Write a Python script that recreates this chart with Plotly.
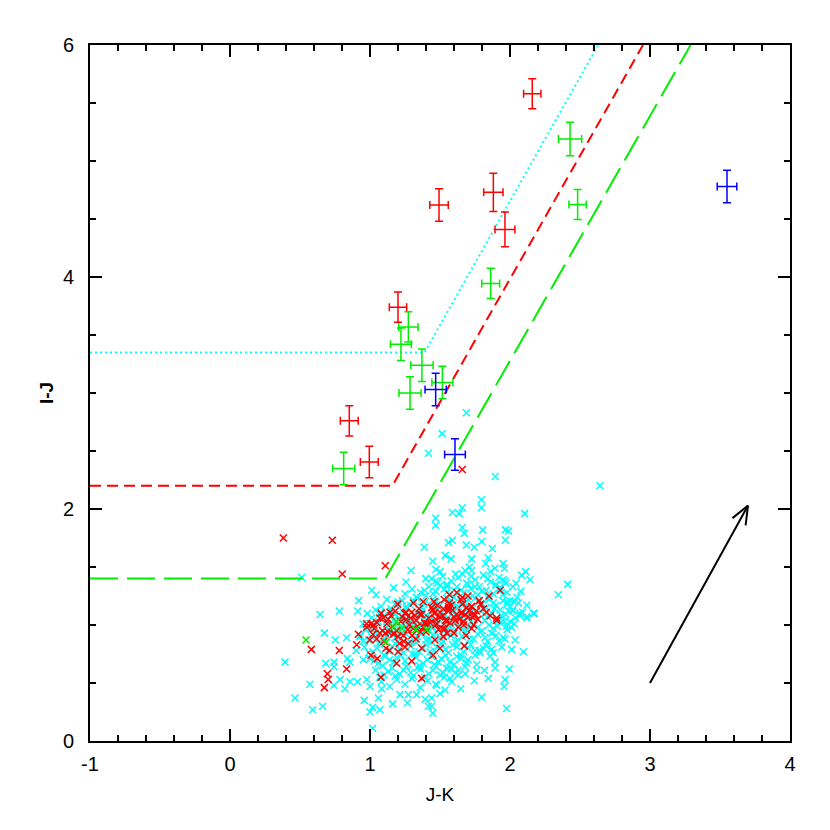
import math
import plotly.graph_objects as go

# --- small crosses: photometry of all field objects (J-K, I-J) ---
cyan_x = [1.688, 1.516, 1.417, 1.895, 2.643, 1.795, 1.659, 1.795,
          0.512, 1.388, 1.293, 1.398, 1.257, 1.012, 1.043, 0.919, 1.169, 0.643, 0.781, 0.912,
          2.105, 1.588, 1.636, 1.469, 1.469, 1.659, 1.805, 1.967, 1.990, 1.674, 1.588, 1.560,
          1.798, 1.967, 1.688, 1.745, 1.874, 1.538, 1.579, 1.726, 1.845, 1.448, 1.826, 1.950,
          1.710, 1.893, 1.862, 1.679, 1.726, 1.960, 1.500, 1.471, 2.112, 2.083, 2.143, 1.964,
          2.043, 2.412, 2.076, 2.345, 1.917, 1.981, 2.060, 2.120, 2.019, 2.167, 2.071, 2.120,
          0.674, 0.752, 0.833, 0.393, 0.683, 0.743, 0.743, 0.838, 0.857, 0.571, 0.464, 0.590,
          0.662, 0.743, 0.786, 0.821, 0.857, 0.910, 0.959, 1.000, 1.019, 1.019, 1.071, 1.060,
          0.976, 1.000, 1.083, 1.162, 1.214, 1.274, 1.267, 1.333, 1.393, 1.417, 0.929, 0.952,
          0.900, 2.174, 2.120, 2.000, 1.976, 2.036, 1.964, 1.940, 2.012, 2.095, 1.869, 1.786,
          1.857, 1.893, 1.762, 1.893, 1.995, 1.817, 1.762, 1.679, 1.845, 1.745, 1.964, 1.957,
          1.571, 1.583, 1.476, 1.536, 1.648, 1.500, 1.440, 1.798, 1.440, 1.976, 1.448, 1.690,
          1.631, 1.548,
          # dense core
          1.44, 1.52, 1.58, 1.63, 1.69, 1.75, 1.81, 1.86, 1.92, 1.55, 1.66, 1.78, 1.48, 1.97, 1.60,
          1.30, 1.36, 1.42, 1.47, 1.53, 1.57, 1.62, 1.67, 1.72, 1.77, 1.83, 1.88, 1.93, 1.98, 2.02,
          1.25, 1.40, 1.70,
          1.12, 1.18, 1.23, 1.29, 1.34, 1.39, 1.45, 1.50, 1.55, 1.60, 1.65, 1.70, 1.75, 1.80, 1.85,
          1.90, 1.95, 2.00, 2.05, 1.08, 1.58, 1.73,
          0.98, 1.04, 1.10, 1.15, 1.21, 1.26, 1.32, 1.37, 1.43, 1.48, 1.53, 1.59, 1.64, 1.69, 1.74,
          1.79, 1.84, 1.89, 1.94, 1.99, 2.04, 2.09, 1.62, 1.40,
          0.95, 1.01, 1.06, 1.12, 1.17, 1.23, 1.28, 1.34, 1.39, 1.45, 1.50, 1.56, 1.61, 1.66, 1.72,
          1.77, 1.82, 1.88, 1.93, 1.98, 2.03, 1.53, 1.70,
          0.93, 0.99, 1.04, 1.10, 1.15, 1.20, 1.26, 1.31, 1.37, 1.42, 1.47, 1.52, 1.58, 1.63, 1.68,
          1.74, 1.79, 1.84, 1.90, 1.95, 1.44, 1.60,
          0.96, 1.02, 1.07, 1.13, 1.18, 1.24, 1.29, 1.35, 1.40, 1.46, 1.51, 1.56, 1.62, 1.67, 1.72,
          1.78, 1.83, 1.88, 1.33,
          1.00, 1.06, 1.11, 1.17, 1.22, 1.27, 1.33, 1.38, 1.44, 1.49, 1.54, 1.60, 1.65, 1.70, 1.75,
          1.04, 1.10, 1.16, 1.21, 1.26, 1.31, 1.36, 1.42, 1.47, 1.52, 1.58, 1.63,
          1.08, 1.14, 1.19, 1.25, 1.30, 1.36, 1.41, 1.47, 1.53,
          # second pass over the core
          1.47, 1.55, 1.61, 1.72, 1.84, 1.90, 1.95,
          1.33, 1.39, 1.45, 1.50, 1.55, 1.60, 1.65, 1.70, 1.75, 1.80, 1.85, 1.90, 1.95, 2.00,
          1.15, 1.20, 1.26, 1.31, 1.37, 1.42, 1.47, 1.53, 1.58, 1.63, 1.68, 1.73, 1.78, 1.83,
          1.88, 1.93, 1.98, 2.03,
          1.01, 1.07, 1.12, 1.18, 1.23, 1.29, 1.35, 1.40, 1.46, 1.51, 1.56, 1.61, 1.67, 1.72,
          1.77, 1.82, 1.87, 1.92, 1.97, 2.02, 2.07,
          0.97, 1.03, 1.09, 1.14, 1.20, 1.25, 1.31, 1.36, 1.42, 1.47, 1.53, 1.58, 1.64, 1.69,
          1.74, 1.80, 1.85, 1.91, 1.96, 2.01,
          0.95, 1.01, 1.07, 1.12, 1.18, 1.23, 1.29, 1.34, 1.40, 1.45, 1.50, 1.55, 1.61, 1.66,
          1.71, 1.77, 1.82, 1.87, 1.92,
          0.99, 1.05, 1.10, 1.16, 1.21, 1.27, 1.32, 1.38, 1.43, 1.48, 1.54, 1.59, 1.65, 1.70,
          1.75, 1.81,
          1.03, 1.09, 1.14, 1.19, 1.25, 1.30, 1.35, 1.41, 1.46, 1.51, 1.57, 1.62, 1.68,
          1.07, 1.13, 1.18, 1.24, 1.29, 1.34, 1.39, 1.45, 1.50, 1.55, 1.61]
cyan_y = [2.83, 2.65, 2.48, 2.28, 2.20, 2.08, 2.01, 2.01,
          1.41, 1.67, 1.47, 1.40, 1.37, 1.30, 1.26, 1.21, 1.32, 1.09, 1.12, 1.12,
          1.96, 1.97, 1.96, 1.92, 1.86, 1.84, 1.82, 1.82, 1.81, 1.79, 1.73, 1.71,
          1.72, 1.73, 1.69, 1.67, 1.66, 1.60, 1.57, 1.57, 1.58, 1.55, 1.53, 1.53,
          1.50, 1.49, 1.46, 1.47, 1.47, 1.49, 1.46, 1.48, 1.46, 1.43, 1.39, 1.38,
          1.36, 1.35, 1.29, 1.26, 1.31, 1.20, 1.19, 1.17, 1.13, 1.10, 1.10, 1.07,
          0.93, 0.87, 0.89, 0.68, 0.67, 0.68, 0.64, 0.71, 0.68, 0.49, 0.37, 0.27,
          0.30, 0.48, 0.53, 0.45, 0.51, 0.51, 0.35, 0.25, 0.11, 0.29, 0.27, 0.37,
          0.53, 0.47, 0.45, 0.32, 0.40, 0.40, 0.33, 0.40, 0.36, 0.30, 0.90, 0.70,
          0.78, 1.10, 1.06, 1.03, 0.99, 0.87, 0.88, 0.81, 0.79, 0.77, 0.79, 0.76,
          0.73, 0.68, 0.66, 0.63, 0.62, 0.61, 0.61, 0.58, 0.54, 0.52, 0.53, 0.47,
          0.54, 0.51, 0.48, 0.44, 0.45, 0.41, 0.37, 0.38, 0.30, 0.28, 0.24, 0.67,
          0.61, 0.63,
          1.40, 1.42, 1.38, 1.41, 1.36, 1.39, 1.43, 1.37, 1.41, 1.35, 1.44, 1.33, 1.36, 1.36, 1.30,
          1.31, 1.28, 1.33, 1.29, 1.31, 1.26, 1.33, 1.28, 1.31, 1.26, 1.30, 1.27, 1.32, 1.28, 1.33,
          1.27, 1.25, 1.35,
          1.22, 1.18, 1.21, 1.17, 1.23, 1.19, 1.22, 1.17, 1.23, 1.19, 1.21, 1.16, 1.23, 1.18, 1.22,
          1.17, 1.21, 1.16, 1.24, 1.16, 1.15, 1.25,
          1.10, 1.13, 1.08, 1.12, 1.06, 1.14, 1.09, 1.12, 1.07, 1.13, 1.08, 1.11, 1.06, 1.13, 1.09,
          1.12, 1.07, 1.14, 1.08, 1.12, 1.06, 1.11, 1.14, 1.05,
          1.01, 0.97, 1.03, 0.98, 1.04, 0.99, 1.02, 0.96, 1.03, 0.98, 1.04, 0.97, 1.02, 0.96, 1.03,
          0.98, 1.04, 0.97, 1.02, 0.96, 1.01, 1.00, 0.99,
          0.91, 0.87, 0.93, 0.88, 0.94, 0.86, 0.92, 0.87, 0.93, 0.88, 0.94, 0.86, 0.91, 0.87, 0.93,
          0.88, 0.94, 0.86, 0.91, 0.89, 0.85, 0.95,
          0.81, 0.77, 0.83, 0.78, 0.84, 0.76, 0.82, 0.77, 0.83, 0.78, 0.84, 0.76, 0.81, 0.77, 0.83,
          0.78, 0.82, 0.76, 0.85,
          0.71, 0.67, 0.73, 0.68, 0.74, 0.66, 0.72, 0.67, 0.73, 0.68, 0.74, 0.66, 0.71, 0.70, 0.74,
          0.61, 0.57, 0.63, 0.58, 0.64, 0.56, 0.62, 0.58, 0.64, 0.59, 0.62, 0.57,
          0.51, 0.47, 0.53, 0.49, 0.54, 0.46, 0.52, 0.49, 0.55,
          1.38, 1.33, 1.44, 1.42, 1.40, 1.34, 1.39,
          1.24, 1.30, 1.27, 1.34, 1.28, 1.24, 1.30, 1.22, 1.33, 1.29, 1.24, 1.35, 1.26, 1.21,
          1.14, 1.20, 1.16, 1.21, 1.15, 1.18, 1.20, 1.13, 1.21, 1.16, 1.19, 1.14, 1.20, 1.15,
          1.19, 1.13, 1.18, 1.20,
          1.06, 1.10, 1.04, 1.09, 1.12, 1.05, 1.10, 1.08, 1.04, 1.10, 1.06, 1.09, 1.04, 1.11,
          1.05, 1.09, 1.10, 1.04, 1.09, 1.12, 1.08,
          0.96, 1.00, 0.95, 1.01, 0.97, 1.03, 0.99, 1.01, 0.96, 1.02, 0.95, 1.00, 0.99, 0.96,
          1.01, 0.95, 1.00, 0.99, 1.03, 0.98,
          0.86, 0.90, 0.85, 0.91, 0.89, 0.93, 0.85, 0.90, 0.87, 0.91, 0.89, 0.92, 0.85, 0.90,
          0.88, 0.92, 0.89, 0.93, 0.86,
          0.76, 0.80, 0.74, 0.81, 0.79, 0.84, 0.75, 0.80, 0.77, 0.81, 0.79, 0.83, 0.74, 0.80,
          0.78, 0.80,
          0.69, 0.65, 0.70, 0.72, 0.69, 0.75, 0.65, 0.70, 0.66, 0.71, 0.68, 0.73, 0.64,
          0.55, 0.60, 0.56, 0.61, 0.59, 0.63, 0.55, 0.61, 0.57, 0.62, 0.59]

red_x = [1.659, 0.381, 0.731, 0.802, 1.109,
         1.457, 1.567, 1.567, 1.659, 1.726, 1.524, 1.560, 1.448, 1.655, 1.702, 1.745, 1.905, 1.500,
         0.581, 0.781, 0.695, 0.702, 0.674, 0.833, 0.917, 0.905, 0.976, 1.007, 1.007, 1.052,
         1.079, 1.190, 1.298, 1.369, 1.198, 1.310, 1.380, 1.257, 1.298, 1.357, 1.393, 1.143,
         1.095, 1.024, 1.071, 1.131, 1.171, 1.238, 1.274, 1.329, 1.369, 1.114, 1.202, 1.250,
         1.000, 1.048, 0.976,
         1.726, 1.905, 1.726, 1.686, 1.674, 1.667, 1.600, 1.524, 1.500, 1.464, 1.476, 1.548,
         1.655, 1.750, 1.452, 1.560, 1.536,
         1.05, 1.09, 1.13, 1.16, 1.22, 1.27, 1.33, 1.38, 1.42, 1.47, 1.52, 1.57, 1.62, 1.67,
         1.71, 1.77, 1.81, 1.86, 1.44, 1.35, 1.25, 1.18, 1.08, 1.02, 1.10, 1.20, 1.30, 1.40,
         1.55, 1.63, 1.74, 1.50, 1.58, 1.66, 1.78, 1.85, 1.93, 1.62, 1.70, 1.53, 1.24, 1.14,
         1.45,
         1.03, 1.07, 1.11, 1.15, 1.19, 1.23, 1.28, 1.32, 1.36, 1.41, 1.46, 1.49, 1.54, 1.59,
         1.64, 1.69, 1.73, 1.79, 1.83, 1.12, 1.17, 1.26, 1.31, 1.37, 1.43, 1.48, 1.56, 1.61,
         1.68, 1.76, 1.21, 1.29, 1.34, 1.39, 1.47, 1.52, 1.60, 1.65]
red_y = [2.34, 1.75, 1.73, 1.44, 1.51,
         1.20, 1.26, 1.19, 1.24, 1.16, 1.14, 1.12, 1.13, 1.11, 1.07, 1.08, 1.06, 1.07,
         0.79, 0.78, 0.58, 0.53, 0.46, 0.62, 0.92, 0.83, 0.98, 1.01, 0.74, 0.71,
         0.55, 0.67, 0.69, 0.54, 1.18, 1.19, 1.20, 1.11, 1.11, 1.09, 1.01, 1.11,
         1.06, 1.00, 0.93, 0.94, 0.93, 0.91, 0.84, 0.88, 0.80, 0.80, 0.77, 0.81,
         0.87, 0.88, 1.01,
         1.16, 1.04, 0.97, 0.91, 0.82, 1.03, 0.93, 0.90, 0.80, 0.87, 1.01, 1.03,
         1.10, 1.09, 1.13, 1.16, 0.97,
         1.02, 0.95, 1.05, 0.99, 1.03, 0.96, 1.04, 0.98, 1.06, 1.00, 1.08, 1.02, 1.09, 1.00,
         1.12, 1.05, 1.14, 1.08, 1.15, 1.14, 1.10, 1.12, 1.10, 0.92, 0.86, 0.90, 0.91, 0.94,
         0.93, 0.98, 1.00, 1.11, 1.17, 1.18, 1.21, 1.25, 1.30, 1.28, 1.25, 1.22, 0.86, 0.78,
         0.74,
         0.97, 1.06, 0.93, 1.08, 0.95, 1.07, 1.00, 1.08, 0.94, 1.01, 1.10, 0.96, 1.04, 1.13,
         1.05, 1.15, 1.07, 1.18, 1.11, 1.01, 0.92, 1.05, 0.97, 1.09, 1.02, 1.17, 1.14, 1.04,
         1.09, 1.12, 0.84, 1.06, 0.99, 1.02, 1.05, 0.97, 1.07, 1.22]

green_x = [0.543, 1.190, 1.226, 1.114, 1.326, 1.405, 1.167]
green_y = [0.87, 1.03, 0.97, 0.85, 0.96, 0.96, 0.985]

# --- objects with error bars ---
red_err_x = [2.159, 1.881, 1.493, 1.964, 1.200, 0.852, 0.995]
red_err_y = [5.58, 4.73, 4.62, 4.41, 3.74, 2.76, 2.405]
red_err_dx = [0.062, 0.069, 0.066, 0.071, 0.062, 0.064, 0.064]
red_err_dy = [0.13, 0.165, 0.14, 0.15, 0.13, 0.13, 0.135]

green_err_x = [2.429, 2.483, 1.862, 1.274, 1.221, 1.371, 1.517, 1.286, 0.812]
green_err_y = [5.19, 4.625, 3.945, 3.57, 3.42, 3.24, 3.09, 3.00, 2.35]
green_err_dx = [0.083, 0.062, 0.064, 0.069, 0.075, 0.080, 0.075, 0.079, 0.079]
green_err_dy = [0.145, 0.13, 0.13, 0.13, 0.14, 0.14, 0.14, 0.14, 0.14]

blue_err_x = [3.55, 1.469, 1.607]
blue_err_y = [4.78, 3.03, 2.47]
blue_err_dx = [0.070, 0.076, 0.074]
blue_err_dy = [0.14, 0.14, 0.135]

# --- selection boundaries ---
cyan_cut_x = [-1.0, 1.39, 2.63]
cyan_cut_y = [3.35, 3.35, 6.0]
red_cut_x = [-1.0, 1.16, 2.95]
red_cut_y = [2.2, 2.2, 6.0]
green_cut_x = [-1.0, 1.11, 3.29]
green_cut_y = [1.4, 1.4, 6.0]

# reddening vector
arrow_tail = (3.0, 0.5)
arrow_tip = (3.7, 2.03)

x_ticks = [-1, 0, 1, 2, 3, 4]
x_ticklabels = ['-1', '0', '1', '2', '3', '4']
y_ticks = [0, 2, 4, 6]

CYAN = '#00ffff'
RED = '#ff0000'
GREEN = '#00ee00'
BLUE = '#0000ff'

fig = go.Figure()

cross = dict(symbol='x-thin', size=7)
fig.add_trace(go.Scatter(x=cyan_x, y=cyan_y, mode='markers',
                         marker=dict(cross, color=CYAN, line=dict(width=1.5, color=CYAN))))
fig.add_trace(go.Scatter(x=red_x, y=red_y, mode='markers',
                         marker=dict(cross, color=RED, line=dict(width=1.5, color=RED))))
fig.add_trace(go.Scatter(x=green_x, y=green_y, mode='markers',
                         marker=dict(cross, color=GREEN, line=dict(width=1.5, color=GREEN))))

for xs, ys, col, dash in [(cyan_cut_x, cyan_cut_y, CYAN, '2px,3px'),
                          (red_cut_x, red_cut_y, RED, '11px,6px'),
                          (green_cut_x, green_cut_y, GREEN, '28px,9px')]:
    fig.add_trace(go.Scatter(x=xs, y=ys, mode='lines',
                             line=dict(color=col, width=2, dash=dash)))

for xs, ys, dxs, dys, col in [(red_err_x, red_err_y, red_err_dx, red_err_dy, RED),
                              (green_err_x, green_err_y, green_err_dx, green_err_dy, GREEN),
                              (blue_err_x, blue_err_y, blue_err_dx, blue_err_dy, BLUE)]:
    fig.add_trace(go.Scatter(x=xs, y=ys, mode='markers',
                             marker=dict(size=1, color=col),
                             error_x=dict(type='data', array=dxs, color=col, thickness=1.5, width=4),
                             error_y=dict(type='data', array=dys, color=col, thickness=1.5, width=4)))

# arrow shaft and open head (head built in pixel space: 140 px/unit in x, 116 px/unit in y)
px_x, px_y = 140.0, 116.0
ddx = (arrow_tip[0] - arrow_tail[0]) * px_x
ddy = (arrow_tip[1] - arrow_tail[1]) * px_y
ang = math.atan2(ddy, ddx)
head_len, head_ang = 20.0, math.radians(22)
hx, hy = [], []
for s in (1, -1):
    a = ang + math.pi + s * head_ang
    hx += [arrow_tip[0] + head_len * math.cos(a) / px_x, arrow_tip[0], None]
    hy += [arrow_tip[1] + head_len * math.sin(a) / px_y, arrow_tip[1], None]
fig.add_trace(go.Scatter(x=[arrow_tail[0], arrow_tip[0]] + [None] + hx,
                         y=[arrow_tail[1], arrow_tip[1]] + [None] + hy,
                         mode='lines', line=dict(color='black', width=2)))

FAMILY = 'Liberation Sans, Arial, sans-serif'
axis_common = dict(showgrid=False, zeroline=False, showline=True, linecolor='black', linewidth=2,
                   mirror='allticks', ticks='inside', ticklen=12, tickwidth=2, tickcolor='black',
                   automargin=False)
fig.update_xaxes(**axis_common)
fig.update_yaxes(**axis_common)
fig.update_layout(
    width=830, height=830, showlegend=False,
    font=dict(family=FAMILY, size=20, color='black'),
    paper_bgcolor='white', plot_bgcolor='white',
    margin=dict(l=82, r=48, t=37, b=97),
    xaxis=dict(range=[-1, 4], tickvals=x_ticks, ticktext=x_ticklabels,
               tickfont=dict(family=FAMILY, size=20, color='black'),
               minor=dict(dtick=0.2, tick0=-1, ticks='inside', ticklen=6, tickwidth=1.5,
                          tickcolor='black'),
               ticklabelstandoff=4,
               title=dict(text='J-K', font=dict(family=FAMILY, size=19, color='black'),
                          standoff=14)),
    yaxis=dict(range=[0, 6], tickvals=y_ticks,
               tickfont=dict(family=FAMILY, size=20, color='black'),
               minor=dict(dtick=0.5, tick0=0, ticks='inside', ticklen=6, tickwidth=1.5,
                          tickcolor='black'),
               ticklabelstandoff=10,
               title=dict(text='<b>I-J</b>', font=dict(family=FAMILY, size=19, color='black'),
                          standoff=4)),
)

fig.write_html("out.html")
